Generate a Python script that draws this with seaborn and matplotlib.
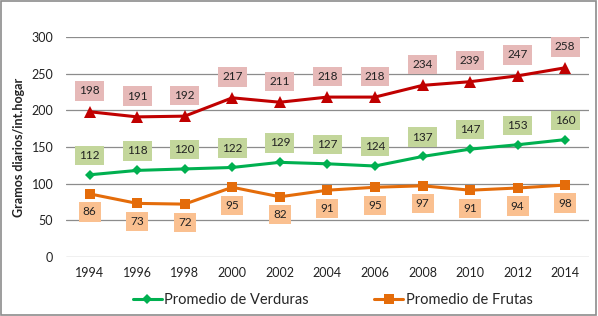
import pandas as pd
import matplotlib.pyplot as plt
import seaborn as sns
from matplotlib.patches import Rectangle

# Data
years = [1994, 1996, 1998, 2000, 2002, 2004, 2006, 2008, 2010, 2012, 2014]
total = [198, 191, 192, 217, 211, 218, 218, 234, 239, 247, 258]
verduras = [112, 118, 120, 122, 129, 127, 124, 137, 147, 153, 160]
frutas = [86, 73, 72, 95, 82, 91, 95, 97, 91, 94, 98]

df = pd.DataFrame({"year": years, "total": total,
                   "verduras": verduras, "frutas": frutas})

sns.set_style("white")
plt.rcParams["font.family"] = ["Lato", "DejaVu Sans"]

fig = plt.figure(figsize=(5.98, 3.16), dpi=100)
ax = fig.add_axes([0.110, 0.187, 0.875, 0.696])

red, green, orange = "#C00000", "#00B050", "#E46C0A"

sns.lineplot(data=df, x="year", y="total", ax=ax, color=red, lw=2.2,
             marker="^", markersize=8.5, markeredgewidth=0, label="_nolegend_")
sns.lineplot(data=df, x="year", y="verduras", ax=ax, color=green, lw=2.2,
             marker="D", markersize=5.5, markeredgewidth=0,
             label="Promedio de Verduras")
sns.lineplot(data=df, x="year", y="frutas", ax=ax, color=orange, lw=2.2,
             marker="s", markersize=7, markeredgewidth=0,
             label="Promedio de Frutas")

# data labels in coloured boxes
def put_labels(vals, dy, face):
    for x, v in zip(years, vals):
        ax.annotate(str(v), (x, v), xytext=(0, dy), textcoords="offset points",
                    ha="center", va="center", fontsize=8.5, color="#222222",
                    bbox=dict(boxstyle="square,pad=0.35", fc=face, ec="none"))

put_labels(total, 15, "#E6B9B8")
put_labels(verduras, 14, "#C3D69B")
put_labels(frutas, -13, "#FAC090")

ax.set_xlim(1993, 2015)
ax.set_ylim(0, 300)
ax.set_xticks(years)
ax.set_yticks(range(0, 301, 50))
ax.tick_params(axis="both", length=0, labelsize=9, colors="#222222")
ax.tick_params(axis="y", pad=9)
ax.tick_params(axis="x", pad=7)
ax.set_xlabel("")
ax.set_ylabel("Gramos diarios/int.hogar", fontsize=9, fontweight="bold",
              labelpad=5, color="#222222")
for s in ax.spines.values():
    s.set_visible(False)
ax.yaxis.grid(True, color="#8C8C8C", lw=0.9)
ax.set_axisbelow(True)

ax.legend(loc="upper center", bbox_to_anchor=(0.51, -0.105), ncol=2,
          frameon=False, fontsize=10.5, handlelength=2, columnspacing=4.5,
          handletextpad=0.15)

fig.patches.append(Rectangle((0.002, 0.002), 0.995, 0.995,
                             transform=fig.transFigure, fill=False,
                             ec="#8C8C8C", lw=1.2))

fig.savefig("out.png", dpi=100)
plt.close(fig)
